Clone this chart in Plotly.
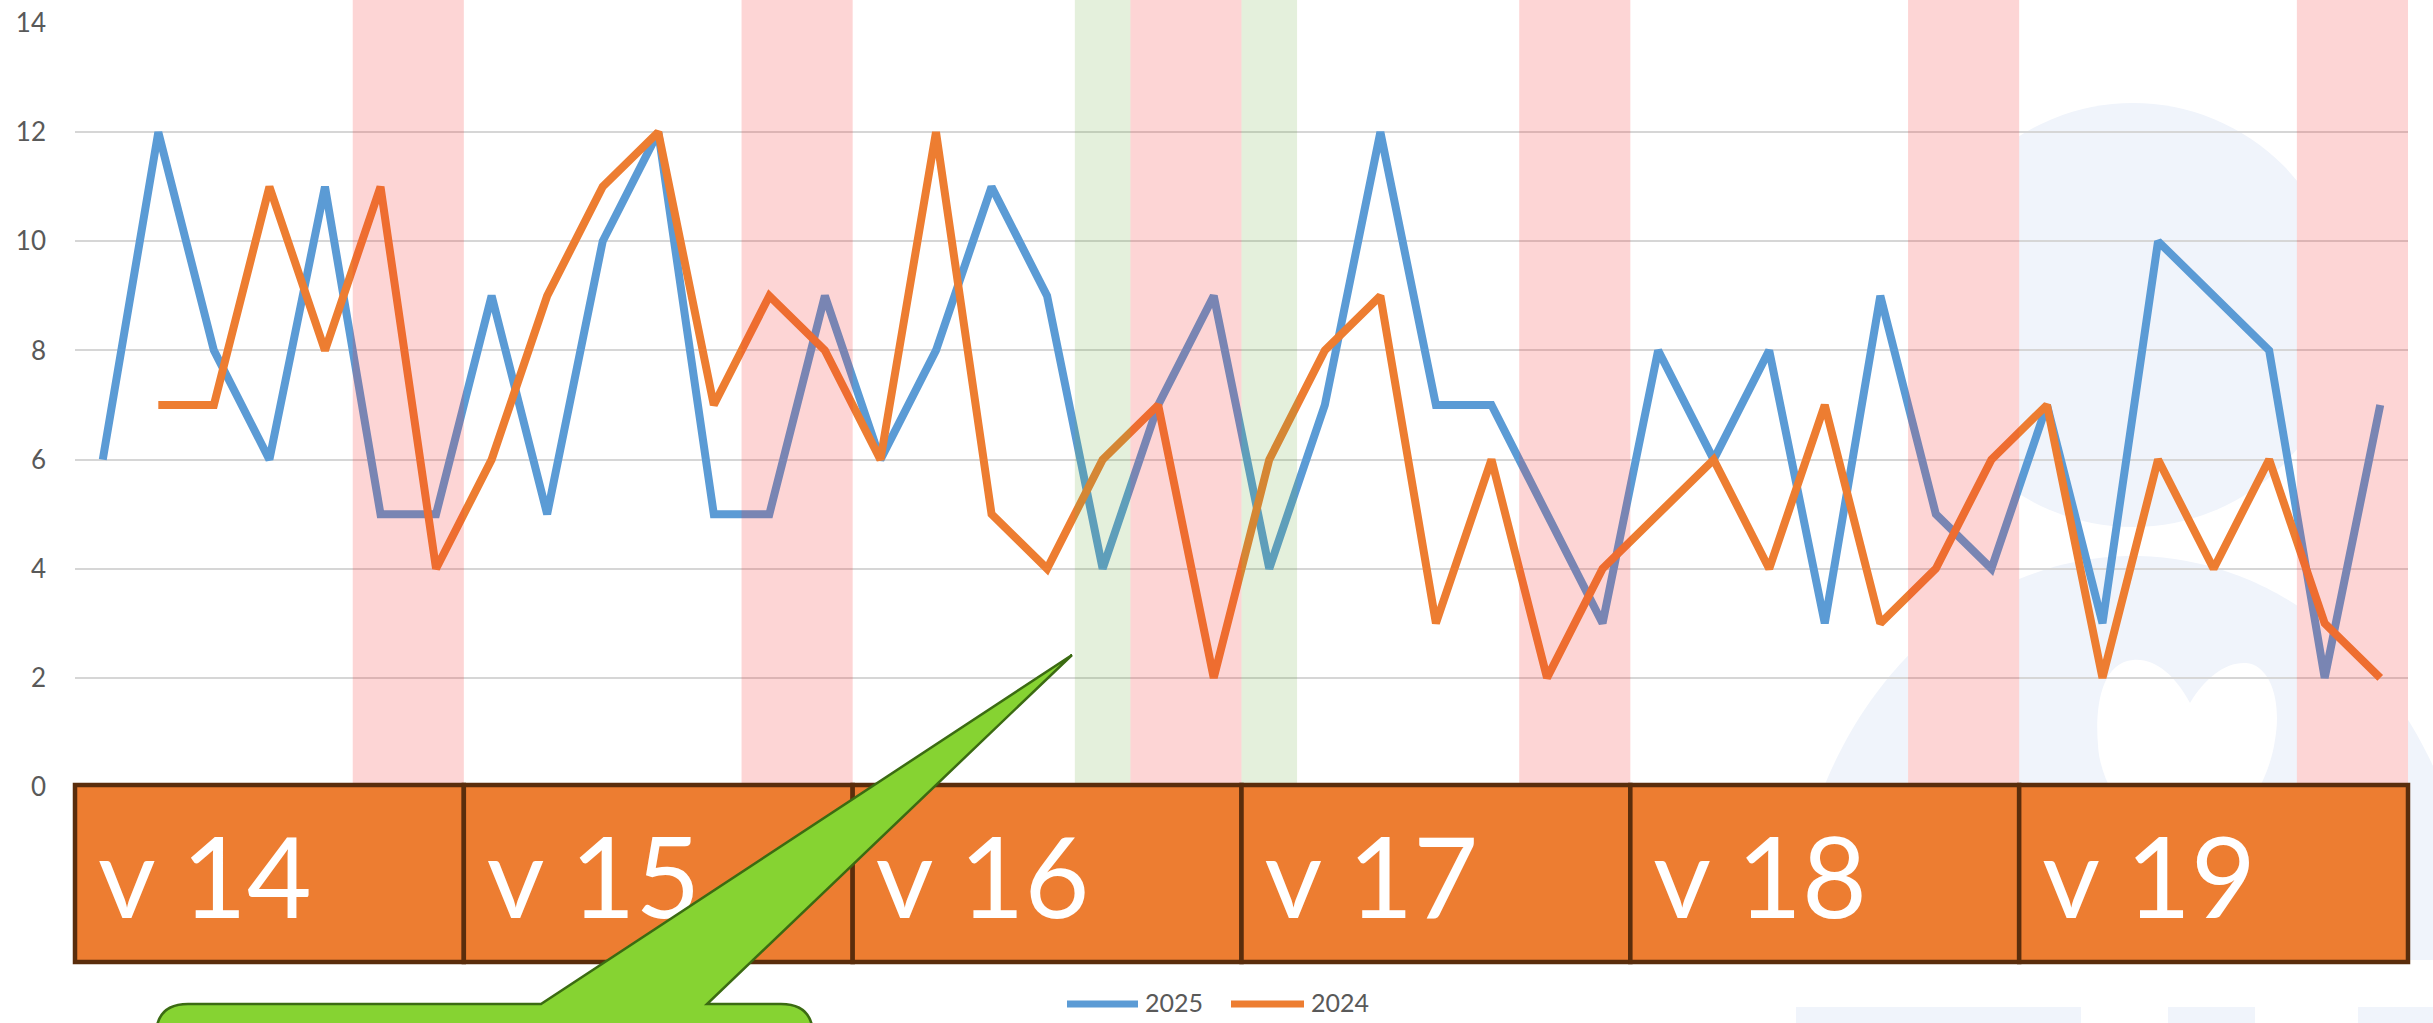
import datetime as dt
import math
import plotly.graph_objects as go

# ---------------- data ----------------
days = [(dt.date(2025, 3, 31) + dt.timedelta(days=d)).strftime("%d/%m") for d in range(42)]
weeks = ["v 14", "v 15", "v 16", "v 17", "v 18", "v 19"]
v2025 = [6, 12, 8, 6, 11, 5, 5, 9, 5, 10, 12, 5, 5, 9,
         6, 8, 11, 9, 4, 7, 9, 4, 7, 12, 7, 7, 5, 3,
         8, 6, 8, 3, 9, 5, 4, 7, 3, 10, 9, 8, 2, 7]
v2024 = [None, 7, 7, 11, 8, 11, 4, 6, 9, 11, 12, 7, 9, 8,
         6, 12, 5, 4, 6, 7, 2, 6, 8, 9, 3, 6, 2, 4,
         5, 6, 4, 7, 3, 4, 6, 7, 2, 6, 4, 6, 3, 2]
weekend_days = [5, 6, 12, 13, 19, 20, 26, 27, 33, 34, 40, 41]
holiday_days = [18, 21]
yticks = [0, 2, 4, 6, 8, 10, 12, 14]
series_names = ["2025", "2024"]

# ---------------- layout geometry ----------------
W, H = 2433, 1023
L, R, T, B = 75, 25, 23, 236
PW, PH = W - L - R, H - T - B
N = len(days)


def px_x(px):
    return (px - L) / PW


def px_y(py):
    return (H - B - py) / PH


def slot_x(v):
    return (v + 0.5) / N


BLUE = "#5B9BD5"
ORANGE = "#ED7D31"
GREY = "#595959"
WM = "#F0F4FB"

fig = go.Figure()
fig.add_trace(go.Scatter(x=days, y=v2025, name=series_names[0], mode="lines",
                         line=dict(color=BLUE, width=8)))
fig.add_trace(go.Scatter(x=days, y=v2024, name=series_names[1], mode="lines",
                         line=dict(color=ORANGE, width=8)))

shapes = []

# ---- watermark (background) ----
cx, cy = 2133, 315
rh = 212
shapes.append(dict(type="circle", xref="paper", yref="paper",
                   x0=px_x(cx - rh), x1=px_x(cx + rh), y0=px_y(cy + rh), y1=px_y(cy - rh),
                   fillcolor=WM, line=dict(width=0), layer="below"))
# body: upper half of an ellipse, cut at y=960
bcx, bcy, brx, bry = 2133, 960, 342, 404
pts = []
for i in range(0, 181):
    a = math.pi * i / 180
    X = bcx - brx * math.cos(a)
    Y = bcy - bry * math.sin(a)
    pts.append((px_x(X), px_y(Y)))
path = "M " + " L ".join(f"{x:.5f},{y:.5f}" for x, y in pts) + " Z"
shapes.append(dict(type="path", xref="paper", yref="paper", path=path,
                   fillcolor=WM, line=dict(width=0), layer="below"))
# heart (white cut-out)
heart = [("M", [(2190, 703)]),
         ("C", [(2175, 675), (2155, 658), (2133, 660)]),
         ("C", [(2100, 663), (2095, 710), (2098, 745)]),
         ("C", [(2100, 790), (2140, 840), (2185, 880)]),
         ("C", [(2230, 840), (2268, 790), (2275, 740)]),
         ("C", [(2282, 700), (2270, 665), (2246, 663)]),
         ("C", [(2225, 662), (2205, 678), (2190, 703)])]
hp = " ".join(cmd + " " + " ".join(f"{px_x(a):.5f},{px_y(b):.5f}" for a, b in p) for cmd, p in heart) + " Z"
shapes.append(dict(type="path", xref="paper", yref="paper", path=hp,
                   fillcolor="white", line=dict(width=0), layer="below"))
for x0, x1 in [(1796, 2081), (2168, 2255), (2358, 2440)]:
    shapes.append(dict(type="rect", xref="paper", yref="paper",
                       x0=px_x(x0), x1=px_x(x1), y0=px_y(1030), y1=px_y(1007),
                       fillcolor=WM, line=dict(width=0), layer="below"))


# ---- weekend / holiday bands (above the lines, translucent) ----
def spans(idx):
    idx = sorted(idx)
    out = []
    s = p = idx[0]
    for d in idx[1:]:
        if d == p + 1:
            p = d
        else:
            out.append((s, p))
            s = p = d
    out.append((s, p))
    return out


band_sets = [(spans(weekend_days), "rgba(245,45,45,0.2)"),
             (spans(holiday_days), "rgba(112,173,71,0.19)")]
# white backing under the bands so the watermark does not tint them
for sp, _ in band_sets:
    for s, e in sp:
        shapes.append(dict(type="rect", xref="paper", yref="paper",
                           x0=slot_x(s - 0.5), x1=slot_x(e + 0.5), y0=px_y(787), y1=px_y(0),
                           fillcolor="white", line=dict(width=0), layer="below"))
for sp, col in band_sets:
    for s, e in sp:
        shapes.append(dict(type="rect", xref="paper", yref="paper",
                           x0=slot_x(s - 0.5), x1=slot_x(e + 0.5), y0=px_y(787), y1=px_y(0),
                           fillcolor=col, line=dict(width=0), layer="above"))

# ---- week boxes ----
for k, wk in enumerate(weeks):
    shapes.append(dict(type="rect", xref="paper", yref="paper",
                       x0=slot_x(7 * k - 0.5), x1=slot_x(7 * k + 6.5),
                       y0=px_y(962), y1=px_y(785),
                       fillcolor=ORANGE, line=dict(color="#5A2D0C", width=4.5), layer="above",
                       label=dict(text=wk, textposition="middle left", padding=20,
                                  font=dict(family="Lato", size=112, color="white"))))

# ---- green callout ----
cl, cr, ct, cb, rr = 156, 813, 1004, 1120, 32
call = [("M", (cl, cb)), ("L", (cl, ct + rr)), ("Q", (cl, ct), (cl + rr, ct)),
        ("L", (541, ct)), ("L", (1072, 655)), ("L", (707, ct)),
        ("L", (cr - rr, ct)), ("Q", (cr, ct), (cr, ct + rr)), ("L", (cr, cb))]
cp = " ".join(c[0] + " " + " ".join(f"{px_x(a):.5f},{px_y(b):.5f}" for a, b in c[1:]) for c in call) + " Z"
shapes.append(dict(type="path", xref="paper", yref="paper", path=cp,
                   fillcolor="#86D332", line=dict(color="#3B6B12", width=2.5), layer="above"))

# ---- manual legend ----
annotations = []
leg = [(series_names[0], BLUE, 1067, 1138, 1143), (series_names[1], ORANGE, 1231, 1304, 1309)]
for name, col, a, b, t in leg:
    shapes.append(dict(type="line", xref="paper", yref="paper",
                       x0=px_x(a), x1=px_x(b), y0=px_y(1004), y1=px_y(1004),
                       line=dict(color=col, width=7), layer="above"))
    annotations.append(dict(text=name, xref="paper", yref="paper", x=px_x(t), y=px_y(1002),
                            xanchor="left", yanchor="middle", showarrow=False,
                            font=dict(family="Lato", size=25, color=GREY)))

fig.update_layout(
    width=W, height=H,
    margin=dict(l=L, r=R, t=T, b=B, autoexpand=False),
    paper_bgcolor="white", plot_bgcolor="white",
    showlegend=False,
    shapes=shapes, annotations=annotations,
    xaxis=dict(type="category", range=[-0.5, N - 0.5], showgrid=False, zeroline=False,
               showticklabels=False, showline=False, ticks=""),
    yaxis=dict(range=[0, 14], tickvals=yticks, showgrid=True, gridcolor="#D6D6D6", gridwidth=2,
               zeroline=False, showline=False, ticks="", ticklabelstandoff=28,
               tickfont=dict(family="Lato", size=26, color=GREY)),
)

fig.write_html("out.html",
               config={"displayModeBar": False},
               post_script="document.body.style.margin='0';document.body.style.padding='0';"
                           "document.body.style.overflow='hidden';")
